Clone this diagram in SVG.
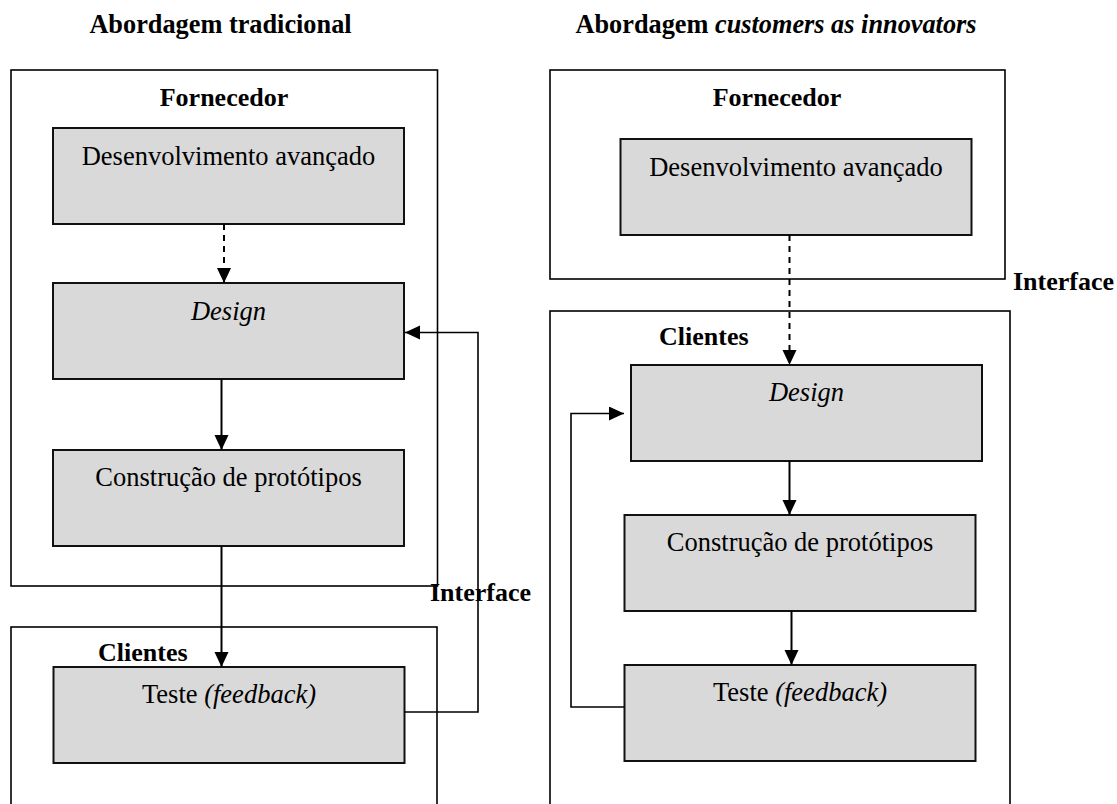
<svg xmlns="http://www.w3.org/2000/svg" width="1117" height="804" viewBox="0 0 1117 804">
<style>
text{font-family:"Liberation Serif","Times New Roman",serif;fill:#000}
.t{font-size:26.3px;font-weight:bold}
.b{font-size:26px;font-weight:bold}
.n{font-size:26.5px;text-anchor:middle}
.i{font-style:italic}
.outer{fill:#fff;stroke:#000;stroke-width:1.6}
.box{fill:#d9d9d9;stroke:#111;stroke-width:2}
.ln{fill:none;stroke:#000;stroke-width:2}
.fb{fill:none;stroke:#000;stroke-width:1.6}
.dash{stroke-dasharray:6,5}
</style>
<defs>
<marker id="ah" markerUnits="userSpaceOnUse" markerWidth="16" markerHeight="15" refX="15" refY="7" orient="auto">
<path d="M0,0 L15,7 L0,14 z" fill="#000"/>
</marker>
</defs>
<rect width="1117" height="804" fill="#fff"/>

<g id="titles">
<text class="t" x="220.5" y="33" text-anchor="middle">Abordagem tradicional</text>
<text class="t" x="776" y="33" text-anchor="middle">Abordagem <tspan class="i">customers as innovators</tspan></text>
</g>

<g id="left-fornecedor">
<rect class="outer" x="11" y="70" width="426.5" height="516"/>
<text class="b" x="224" y="106" text-anchor="middle">Fornecedor</text>
</g>
<g id="left-clientes">
<rect class="outer" x="11" y="627" width="426" height="190"/>
<text class="b" x="98" y="661">Clientes</text>
</g>
<g id="left-interface"><text class="b" x="430" y="601">Interface</text></g>

<g id="left-desenv">
<rect class="box" x="53" y="128" width="351" height="96"/>
<text class="n" x="228.5" y="164.5">Desenvolvimento avançado</text>
</g>
<g id="left-design">
<rect class="box" x="53" y="283" width="351" height="96"/>
<text class="n i" x="228.5" y="319.5">Design</text>
</g>
<g id="left-construcao">
<rect class="box" x="53" y="450" width="351" height="96"/>
<text class="n" x="228.5" y="485.5">Construção de protótipos</text>
</g>
<g id="left-teste">
<rect class="box" x="53.5" y="667" width="351" height="96"/>
<text class="n" x="229" y="703">Teste <tspan class="i">(feedback)</tspan></text>
</g>

<g id="right-fornecedor">
<rect class="outer" x="550" y="70" width="455" height="209"/>
<text class="b" x="777" y="106" text-anchor="middle">Fornecedor</text>
</g>
<g id="right-interface"><text class="b" x="1013" y="290">Interface</text></g>
<g id="right-clientes">
<rect class="outer" x="550" y="311" width="460" height="510"/>
<text class="b" x="659" y="345">Clientes</text>
</g>

<g id="right-desenv">
<rect class="box" x="620.5" y="139" width="351" height="96"/>
<text class="n" x="796" y="175.5">Desenvolvimento avançado</text>
</g>
<g id="right-design">
<rect class="box" x="631" y="365" width="351" height="96"/>
<text class="n i" x="806.5" y="400.5">Design</text>
</g>
<g id="right-construcao">
<rect class="box" x="624.5" y="515" width="351" height="96"/>
<text class="n" x="800" y="550.5">Construção de protótipos</text>
</g>
<g id="right-teste">
<rect class="box" x="624.5" y="665" width="351" height="96"/>
<text class="n" x="800" y="700.5">Teste <tspan class="i">(feedback)</tspan></text>
</g>

<g id="connectors">
<line class="ln dash" x1="224" y1="224" x2="224" y2="283" marker-end="url(#ah)"/>
<line class="ln" x1="221.5" y1="379" x2="221.5" y2="450" marker-end="url(#ah)"/>
<line class="ln" x1="221.5" y1="546" x2="221.5" y2="667" marker-end="url(#ah)"/>
<polyline class="fb" points="404.5,712 478,712 478,332.5 405,332.5" marker-end="url(#ah)"/>
<line class="ln dash" x1="789.5" y1="235" x2="789.5" y2="365" marker-end="url(#ah)"/>
<line class="ln" x1="789.5" y1="461" x2="789.5" y2="515" marker-end="url(#ah)"/>
<line class="ln" x1="791.5" y1="611" x2="791.5" y2="665" marker-end="url(#ah)"/>
<polyline class="fb" points="624.5,707 571,707 571,413.5 624,413.5" marker-end="url(#ah)"/>
</g>
</svg>
